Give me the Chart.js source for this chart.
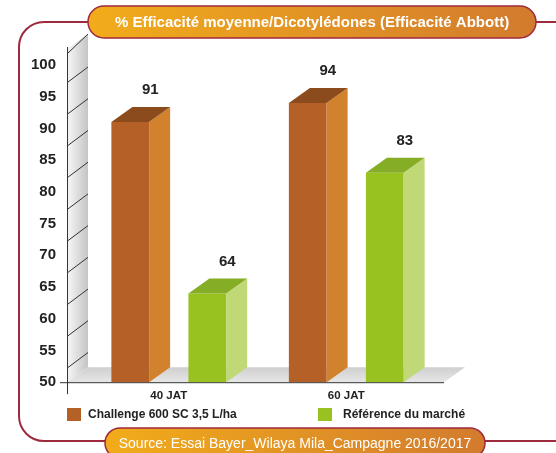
<!DOCTYPE html>
<html>
<head>
<meta charset="utf-8">
<script src="https://cdn.jsdelivr.net/npm/chart.js@4.4.1/dist/chart.umd.min.js"></script>
<style>
  html, body { margin: 0; padding: 0; background: #fff; }
  #wrap { width: 556px; height: 453px; }
</style>
</head>
<body>
<div id="wrap"><canvas id="chart" width="556" height="453"></canvas></div>
<script>
const categories = ['40 JAT', '60 JAT'];
const seriesNames = ['Challenge 600 SC 3,5 L/ha', 'Référence du marché'];
const challengeValues = [91, 94];
const referenceValues = [64, 83];
const yMin = 50;
const yMax = 100;
const yStep = 5;
const titleText = '% Efficacité moyenne/Dicotylédones (Efficacité Abbott)';
const sourceText = 'Source: Essai Bayer_Wilaya Mila_Campagne 2016/2017';

const FONT = '"Liberation Sans", Arial, sans-serif';
const FRAME = '#9e2a3d';
const DX = 21, DY = -15;
// front / side / top colours for each series
const faces = [
  { front: '#b56026', side: '#d2822d', top: '#8c4b1c' },
  { front: '#98c21f', side: '#c1d877', top: '#86ad26' }
];

function pill(ctx, x, y, w, h, text, font) {
  const r = h / 2;
  const g = ctx.createLinearGradient(x, 0, x + w, 0);
  g.addColorStop(0, '#f2ac1a');
  g.addColorStop(1, '#d27b2e');
  ctx.beginPath();
  ctx.moveTo(x + r, y);
  ctx.lineTo(x + w - r, y);
  ctx.arc(x + w - r, y + r, r, -Math.PI / 2, Math.PI / 2);
  ctx.lineTo(x + r, y + h);
  ctx.arc(x + r, y + r, r, Math.PI / 2, Math.PI * 1.5);
  ctx.closePath();
  ctx.fillStyle = g;
  ctx.fill();
  ctx.lineWidth = 1.5;
  ctx.strokeStyle = FRAME;
  ctx.stroke();
  ctx.fillStyle = '#fff';
  ctx.font = font;
  ctx.textAlign = 'center';
  ctx.textBaseline = 'middle';
  ctx.fillText(text, x + w / 2, y + h / 2 + 1);
}

const decor = {
  id: 'decor',
  beforeDraw(chart) {
    const ctx = chart.ctx;
    const area = chart.chartArea;
    const y = chart.scales.y;
    ctx.save();
    // frame
    const fl = 19, ft = 22, fb = 441, fr = 25;
    ctx.beginPath();
    ctx.moveTo(560, ft);
    ctx.lineTo(fl + fr, ft);
    ctx.arcTo(fl, ft, fl, ft + fr, fr);
    ctx.lineTo(fl, fb - fr);
    ctx.arcTo(fl, fb, fl + fr, fb, fr);
    ctx.lineTo(560, fb);
    ctx.lineWidth = 2;
    ctx.strokeStyle = FRAME;
    ctx.stroke();

    // side wall
    const wx = area.left - 13;
    const wallTop = 49;
    const bottom = area.bottom;
    let g = ctx.createLinearGradient(wx, 0, wx + DX, 0);
    g.addColorStop(0, '#f8f8f8');
    g.addColorStop(1, '#c4c4c4');
    ctx.beginPath();
    ctx.moveTo(wx, wallTop);
    ctx.lineTo(wx + DX, wallTop + DY);
    ctx.lineTo(wx + DX, bottom + DY);
    ctx.lineTo(wx, bottom);
    ctx.closePath();
    ctx.fillStyle = g;
    ctx.fill();

    // floor
    const fx2 = area.right + 9;
    g = ctx.createLinearGradient(0, bottom + DY, 0, bottom);
    g.addColorStop(0, '#cfcfcf');
    g.addColorStop(1, '#e6e6e6');
    ctx.beginPath();
    ctx.moveTo(wx, bottom);
    ctx.lineTo(wx + DX, bottom + DY);
    ctx.lineTo(fx2 + DX, bottom + DY);
    ctx.lineTo(fx2, bottom);
    ctx.closePath();
    ctx.fillStyle = g;
    ctx.fill();

    // wall grid diagonals
    ctx.strokeStyle = '#333';
    ctx.lineWidth = 1;
    y.ticks.forEach(t => {
      if (t.value <= yMin) return;
      const py = y.getPixelForValue(t.value);
      ctx.beginPath();
      ctx.moveTo(wx + 1, py + 17);
      ctx.lineTo(wx + DX, py + 2);
      ctx.stroke();
    });
    ctx.beginPath();
    ctx.moveTo(wx + 1, wallTop + 4);
    ctx.lineTo(wx + DX, wallTop + DY);
    ctx.stroke();

    // axis lines
    ctx.beginPath();
    ctx.moveTo(wx + 0.5, wallTop - 2);
    ctx.lineTo(wx + 0.5, bottom + 12);
    ctx.moveTo(wx - 7, bottom + 0.5);
    ctx.lineTo(fx2, bottom + 0.5);
    ctx.stroke();

    // title and source pills
    pill(ctx, 88, 6, 448, 32, titleText, 'bold 15px ' + FONT);
    pill(ctx, 105, 428, 380, 30, sourceText, '14px ' + FONT);
    ctx.restore();
  },
  afterDatasetsDraw(chart) {
    const ctx = chart.ctx;
    ctx.save();
    chart.data.datasets.forEach((ds, i) => {
      const c = faces[i];
      chart.getDatasetMeta(i).data.forEach((bar, j) => {
        const x0 = bar.x - bar.width / 2;
        const x1 = bar.x + bar.width / 2;
        const top = bar.y, base = bar.base;
        ctx.beginPath();
        ctx.moveTo(x1, top);
        ctx.lineTo(x1 + DX, top + DY);
        ctx.lineTo(x1 + DX, base + DY);
        ctx.lineTo(x1, base);
        ctx.closePath();
        ctx.fillStyle = c.side;
        ctx.fill();
        ctx.beginPath();
        ctx.moveTo(x0, top);
        ctx.lineTo(x0 + DX, top + DY);
        ctx.lineTo(x1 + DX, top + DY);
        ctx.lineTo(x1, top);
        ctx.closePath();
        ctx.fillStyle = c.top;
        ctx.fill();
        ctx.fillStyle = '#222';
        ctx.font = 'bold 15px ' + FONT;
        ctx.textAlign = 'center';
        ctx.textBaseline = 'middle';
        ctx.fillText(String(ds.data[j]), bar.x + 20, top - 32);
      });
    });

    // legend
    const items = [{ x: 67, tx: 88 }, { x: 318, tx: 343 }];
    ctx.font = 'bold 12px ' + FONT;
    ctx.textAlign = 'left';
    ctx.textBaseline = 'middle';
    chart.data.datasets.forEach((ds, i) => {
      ctx.fillStyle = faces[i].front;
      ctx.fillRect(items[i].x, 408, 14, 13);
      ctx.fillStyle = '#222';
      ctx.fillText(ds.label, items[i].tx, 415);
    });
    ctx.restore();
  }
};

const yTickValues = [];
for (let v = yMin; v <= yMax; v += yStep) yTickValues.push(v);

new Chart(document.getElementById('chart'), {
  type: 'bar',
  data: {
    labels: categories,
    datasets: [
      { label: seriesNames[0], data: challengeValues, base: yMin, backgroundColor: faces[0].front },
      { label: seriesNames[1], data: referenceValues, base: yMin, backgroundColor: faces[1].front }
    ]
  },
  options: {
    responsive: false,
    animation: false,
    devicePixelRatio: 1,
    categoryPercentage: 0.868,
    barPercentage: 0.49,
    layout: { padding: { left: 7, right: 121, top: 65, bottom: 43 } },
    plugins: { legend: { display: false }, tooltip: { enabled: false } },
    scales: {
      x: {
        grid: { display: false, drawTicks: false },
        border: { display: false },
        ticks: { color: '#222', font: { family: FONT, size: 11.5, weight: 'bold' }, padding: 7 }
      },
      y: {
        min: yMin,
        max: yMax,
        afterBuildTicks: s => { s.ticks = yTickValues.map(v => ({ value: v })); },
        grid: { display: false, drawTicks: false },
        border: { display: false },
        ticks: { color: '#222', font: { family: FONT, size: 15, weight: 'bold' }, padding: 24 }
      }
    }
  },
  plugins: [decor]
});
</script>
</body>
</html>
